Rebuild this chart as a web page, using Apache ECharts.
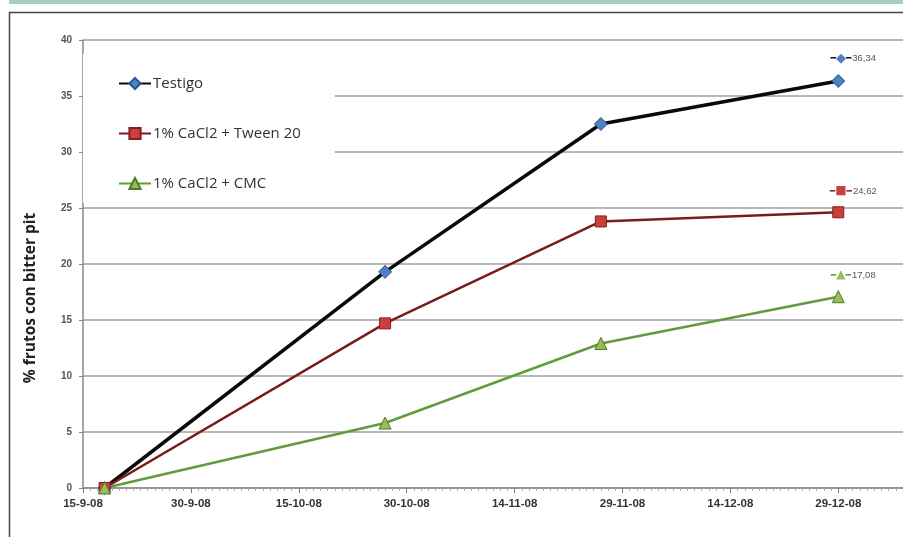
<!DOCTYPE html>
<html>
<head>
<meta charset="utf-8">
<script src="https://cdn.jsdelivr.net/npm/echarts@6/dist/echarts.min.js"></script>
<style>
html,body{margin:0;padding:0;background:#fff;}
#chart{width:903px;height:537px;}
</style>
</head>
<body>
<div id="chart"></div>
<script>
// ---- data ----
const axisStartDate = '2008-09-15';
const axisEndDays = 114;            // axis extent in days after start
const sampleDates = ['2008-09-18', '2008-10-27', '2008-11-26', '2008-12-29'];
const seriesNames = ['Testigo', '1% CaCl2 + Tween 20', '1% CaCl2 + CMC'];
const testigo = [0, 19.3, 32.5, 36.34];
const tween20 = [0, 14.7, 23.8, 24.62];
const cmc = [0, 5.8, 12.9, 17.08];
const yTicks = [0, 5, 10, 15, 20, 25, 30, 35, 40];
const yTitle = '% frutos con bitter pit';

// ---- helpers ----
const DAY = 86400000;
const t0 = Date.parse(axisStartDate + 'T00:00:00Z');
const dayOffset = s => Math.round((Date.parse(s + 'T00:00:00Z') - t0) / DAY);
const fmtDate = v => {
  const d = new Date(t0 + v * DAY);
  return d.getUTCDate() + '-' + (d.getUTCMonth() + 1) + '-' + String(d.getUTCFullYear()).slice(2);
};
const fmtNum = v => v.toFixed(2).replace('.', ',');

const styles = [
  {line: '#0a0a0a', width: 3.5, symbol: 'diamond', size: 13, fill: '#4f81bd', border: '#2a5595', glyph: '◆', gs: 13},
  {line: '#7a1c1c', width: 2.5, symbol: 'rect', size: 11, fill: '#c9413d', border: '#8b1a1a', glyph: '■', gs: 12},
  {line: '#5f9d3b', width: 2.5, symbol: 'triangle', size: 12, fill: '#9bbb59', border: '#4e7a28', glyph: '▲', gs: 12}
];

function buildSeries(name, vals, st) {
  const data = vals.map((v, i) => {
    const item = {value: [dayOffset(sampleDates[i]), v]};
    if (i === vals.length - 1) {
      item.label = {
        show: true,
        position: 'top',
        distance: 9,
        offset: [15, 0],
        formatter: '{a|━}{b|' + st.glyph + '}{a|━}{v|' + fmtNum(v) + '}',
        rich: {
          a: {color: st.line, fontSize: 9, fontFamily: 'DejaVu Sans'},
          b: {color: st.fill, fontSize: st.gs, fontFamily: 'DejaVu Sans'},
          v: {color: '#555', fontSize: 9.5, fontFamily: 'Liberation Sans Narrow, Arial', padding: [0, 0, 0, 1]}
        }
      };
    }
    return item;
  });
  return {
    name: name,
    type: 'line',
    data: data,
    symbol: st.symbol,
    symbolSize: st.size,
    showAllSymbol: true,
    lineStyle: {color: st.line, width: st.width},
    itemStyle: {color: st.fill, borderColor: st.border, borderWidth: 1},
    emphasis: {disabled: true},
    z: 3
  };
}

const chart = echarts.init(document.getElementById('chart'), null, {renderer: 'canvas'});
chart.setOption({
  animation: false,
  backgroundColor: '#fff',
  graphic: [
    {type: 'rect', shape: {x: 9, y: 0, width: 894, height: 4}, style: {fill: '#a9cbc7'}, silent: true},
    {type: 'rect', shape: {x: 9.5, y: 12.5, width: 900, height: 530}, style: {fill: 'none', stroke: '#444', lineWidth: 1.5}, silent: true},
    {type: 'text', x: 31, y: 298, rotation: Math.PI / 2, silent: true,
     style: {text: yTitle, fontFamily: 'Open Sans', fontWeight: 'bold', fontSize: 15.5, fill: '#222', align: 'center', verticalAlign: 'middle'}}
  ],
  grid: {left: 83, right: 0, top: 40, bottom: 49},
  legend: {
    orient: 'vertical',
    left: 83,
    top: 54,
    padding: [22, 34, 12, 35],
    itemGap: 35,
    itemWidth: 32,
    itemHeight: 14,
    backgroundColor: '#fff',
    textStyle: {fontFamily: 'Open Sans', fontSize: 15, color: '#333', padding: [0, 0, 0, -3]},
    data: seriesNames
  },
  xAxis: {
    type: 'value',
    min: 0,
    max: axisEndDays,
    interval: 15,
    axisLine: {show: true, lineStyle: {color: '#8a8a8a', width: 1.5}},
    axisTick: {show: true, length: 5, inside: false, lineStyle: {color: '#777'}},
    minorTick: {show: true, splitNumber: 15, length: 3, lineStyle: {color: '#aaa'}},
    splitLine: {show: false},
    axisLabel: {
      showMaxLabel: false,
      margin: 10,
      fontFamily: 'Liberation Sans Narrow, Arial Narrow, Arial',
      fontWeight: 'bold',
      fontSize: 11.5,
      color: '#333',
      formatter: v => (v % 15 === 0 ? fmtDate(v) : '')
    }
  },
  yAxis: {
    type: 'value',
    min: yTicks[0],
    max: yTicks[yTicks.length - 1],
    interval: yTicks[1] - yTicks[0],
    axisLine: {show: true, lineStyle: {color: '#8a8a8a', width: 1.5}},
    axisTick: {show: true, length: 4, lineStyle: {color: '#888'}},
    splitLine: {show: true, lineStyle: {color: '#a0a0a0', width: 1.6}},
    axisLabel: {margin: 11, fontFamily: 'Liberation Sans Narrow, Arial', fontWeight: 'bold', fontSize: 10, color: '#555'}
  },
  series: [
    buildSeries(seriesNames[0], testigo, styles[0]),
    buildSeries(seriesNames[1], tween20, styles[1]),
    buildSeries(seriesNames[2], cmc, styles[2])
  ]
});
</script>
</body>
</html>
